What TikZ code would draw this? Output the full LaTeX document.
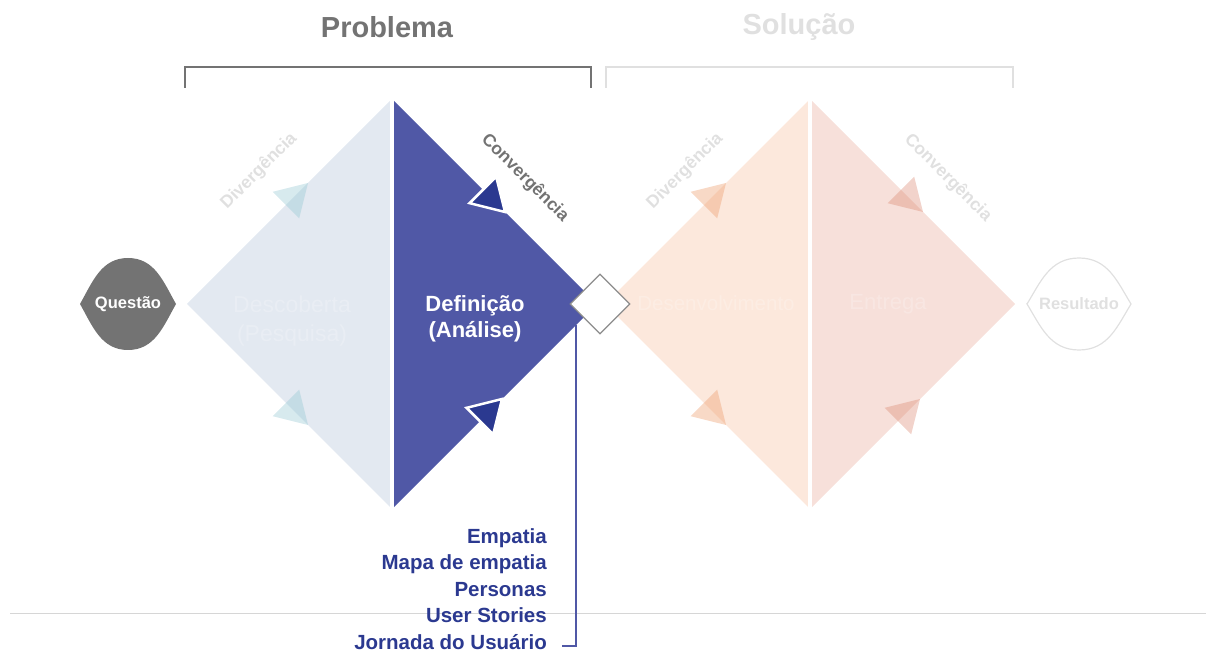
\documentclass[tikz,border=0pt]{standalone}
\usepackage{fontspec}
\setmainfont{Liberation Sans}
\usetikzlibrary{shapes.geometric}

\definecolor{cinza}{HTML}{737373}
\definecolor{cinzaclaro}{HTML}{E0E0E0}
\definecolor{linha}{HTML}{D6D6D6}
\definecolor{azulclaro}{HTML}{E3E9F1}
\definecolor{azulmedio}{HTML}{5058A6}
\definecolor{azulescuro}{HTML}{2B3990}
\definecolor{verdeagua}{HTML}{8CC4CF}
\definecolor{pessego}{HTML}{FCE8DC}
\definecolor{rosado}{HTML}{F7E0DA}
\definecolor{laranja}{HTML}{EE9F70}
\definecolor{coral}{HTML}{D9826A}
\definecolor{contorno}{HTML}{8C8C8C}

\tikzset{
  lente/.pic={
    \path[pic actions] (-50,0) .. controls (-37,22) and (-28,46) .. (0,46)
      .. controls (28,46) and (37,22) .. (50,0)
      .. controls (37,-22) and (28,-46) .. (0,-46)
      .. controls (-28,-46) and (-37,-22) .. cycle;
  }
}

\begin{document}
\begin{tikzpicture}[x=1pt,y=1pt,
    titulo/.style={font=\bfseries\fontsize{29}{34}\selectfont},
    chave/.style={line width=1.5pt},
    linhabase/.style={draw=linha, line width=1pt},
    divisoria/.style={draw=white, line width=3.5pt},
    setaclara/.style={fill=verdeagua, fill opacity=0.35},
    setaescura/.style={fill=azulescuro, draw=white, line width=2.5pt, line join=miter},
    setapessego/.style={fill=laranja, fill opacity=0.4},
    setacoral/.style={fill=coral, fill opacity=0.35},
    juncao/.style={shape=diamond, draw=contorno, fill=white, line width=1.2pt,
      minimum width=60pt, minimum height=60pt, inner sep=0pt},
    fase/.style={font=\fontsize{23}{29}\selectfont, align=center, text=white,
      text opacity=0.22, inner sep=0pt},
    fasedestaque/.style={font=\bfseries\fontsize{22}{26}\selectfont, align=center,
      text=white, inner sep=0pt},
    rotulo/.style={font=\bfseries\fontsize{17.5}{20}\selectfont, text=cinzaclaro},
    extremo/.style={font=\bfseries\fontsize{16.5}{20}\selectfont, inner sep=0pt},
    tecnicas/.style={font=\bfseries\fontsize{20.5}{26.5}\selectfont, align=right,
      text=azulescuro, anchor=north east, inner sep=0pt},
    conector/.style={draw=azulmedio, line width=1.8pt}
  ]
  \useasboundingbox (0,0) rectangle (1206,653);

  % problema e solucao
  \node[titulo, text=cinza] (problema) at (387,626) {Problema};
  \node[titulo, text=cinzaclaro] (solucao) at (799,626) {Solução};
  \draw[chave, draw=cinza] (185,565) |- (591,586) -- (591,565);
  \draw[chave, draw=cinzaclaro] (606,565) |- (1013,586) -- (1013,565);

  \draw[linhabase] (10,40) -- (1206,40);

  % os dois losangos
  \fill[azulclaro] (187,349) -- (392,554) -- (392,144) -- cycle;
  \fill[azulmedio] (392,554) -- (597,349) -- (392,144) -- cycle;
  \fill[pessego] (605,349) -- (810,554) -- (810,144) -- cycle;
  \fill[rosado] (810,554) -- (1015,349) -- (810,144) -- cycle;
  \draw[divisoria] (392,560) -- (392,138);
  \draw[divisoria] (810,560) -- (810,138);

  % setas nas bordas
  \foreach \x/\y/\a/\s in {308/470/45/setaclara, 308/228/-45/setaclara,
      505/441/-45/setaescura, 502/254/45/setaescura,
      726/470/45/setapessego, 726/228/-45/setapessego,
      923/441/-45/setacoral, 920/254/45/setacoral}
    \path[\s] (\x,\y) -- +(\a+149:36.5) -- +(\a+211:36.5) -- cycle;

  \node[juncao] (juncao) at (600,349) {};

  % fases
  \node[fase] (descoberta) at (292,332) {Descoberta\\(Pesquisa)};
  \node[fasedestaque] (definicao) at (475,334) {Definição\\(Análise)};
  \node[fase, font=\fontsize{20.5}{25}\selectfont] (desenvolvimento) at (716,350) {Desenvolvimento};
  \node[fase, font=\fontsize{22}{26}\selectfont] (entrega) at (888,349) {Entrega};

  \node[rotulo, rotate=45] (div1) at (259,482) {Divergência};
  \node[rotulo, rotate=-45, text=cinza] (conv1) at (525,475) {Convergência};
  \node[rotulo, rotate=45] (div2) at (685,482) {Divergência};
  \node[rotulo, rotate=-45] (conv2) at (948,475) {Convergência};

  % questao e resultado
  \pic[fill=cinza, xscale=0.96] at (128,349) {lente};
  \node[extremo, text=white] (questao) at (128,349) {Questão};
  \pic[draw=cinzaclaro, line width=1.2pt, xscale=1.04] at (1079,349) {lente};
  \node[extremo, text=cinzaclaro] (resultado) at (1079,349) {Resultado};

  % tecnicas da definicao
  \node[tecnicas] (lista) at (547,125) {Empatia\\Mapa de empatia\\Personas\\User Stories\\Jornada do Usuário};
  \coordinate (ancora) at (576,328);
  \coordinate (fim) at (562,7);
  \draw[conector] (ancora) |- (fim);
\end{tikzpicture}
\end{document}
